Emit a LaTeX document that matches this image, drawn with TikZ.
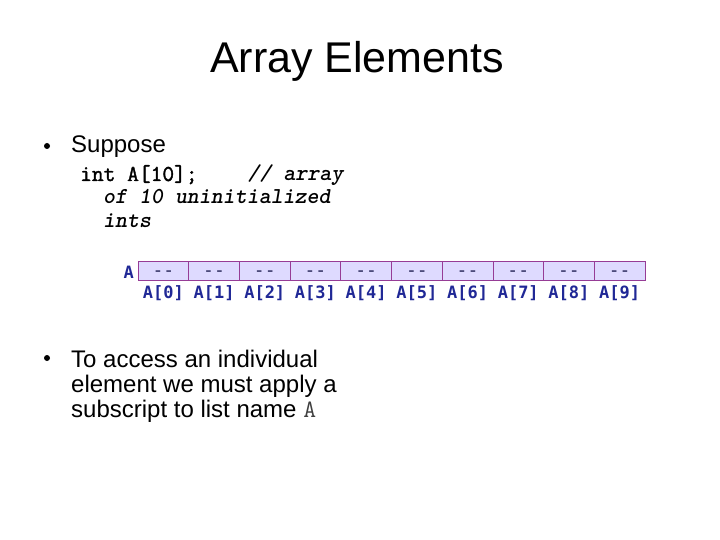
\documentclass[tikz,border=0pt]{standalone}
\usepackage{fontspec}
\setmainfont{Liberation Sans}
\newfontfamily\idxfont{DejaVu Sans Mono}
\newfontfamily\codebold{Latin Modern Mono}[FakeBold=1.6]
\usepackage{xcolor}
\usepackage{tikz}
\usetikzlibrary{positioning,calc}
\definecolor{cellfill}{RGB}{222,218,255}
\definecolor{celledge}{RGB}{150,60,150}
\definecolor{idxblue}{RGB}{32,40,150}
\definecolor{dashnavy}{RGB}{40,40,90}

\begin{document}
\begin{tikzpicture}[x=1pt,y=-1pt,inner sep=0pt,
  slidetext/.style={anchor=base west,font=\fontsize{24}{26}\selectfont},
  codeline/.style={anchor=base west,font=\fontsize{22.8}{23}\ttfamily\bfseries},
  cellbox/.style={draw=celledge,fill=cellfill,line width=0.8pt,minimum width=50.7pt,minimum height=19pt},
  idxlabel/.style={anchor=base,text=idxblue,font=\fontsize{17}{18}\idxfont\bfseries},
  dot/.style={circle,fill=black,minimum size=6pt}]
\useasboundingbox[fill=white] (0,0) rectangle (720,540);
% ---------------- title ----------------
\node[anchor=base,font=\fontsize{43}{46}\selectfont] (title) at (357,73) {Array Elements};
% ---------------- first bullet ----------------
\node[dot] (dotone) at (47,146) {};
\node[slidetext] (suppose) at (71,153) {Suppose};
\node[codeline] (codeA) at (80,181) {{\codebold int A[10];\ \ \ \ }\hspace{3pt}\slshape// array};
\node[codeline] (codeB) at (103,204) {\slshape of 10 uninitialized};
\node[codeline] (codeC) at (103,227) {\slshape ints};
% ---------------- the array ----------------
\node[idxlabel,anchor=base east] (aname) at (134,278) {A};
\foreach \i in {0,...,9}{
  \node[cellbox] (cell\i) at ({138+25.35+50.7*\i},270.5) {};
  \node[anchor=base,text=dashnavy,font=\fontsize{18}{18}\idxfont] (fill\i) at ($(cell\i.center)+(0,6)$) {-{}-};
  \node[idxlabel] (idx\i) at ($(cell\i.south)+(0,18)$) {A[\i]};
}
% ---------------- second bullet ----------------
\node[dot] (dottwo) at (47,358) {};
\node[slidetext] (accessA) at (71,367) {To access an individual};
\node[slidetext] (accessB) at (71,392) {element we must apply a};
\node[slidetext] (accessC) at (71,417) {subscript to list name {\fontsize{25}{26}\ttfamily\color{black!75}A}};
\end{tikzpicture}
\end{document}
